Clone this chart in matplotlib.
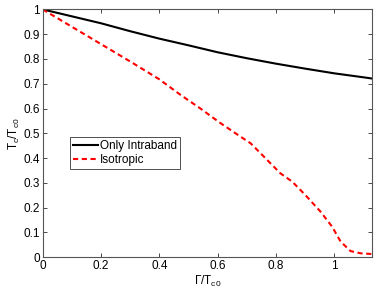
import matplotlib
matplotlib.use('Agg')
import matplotlib.pyplot as plt

plt.rcParams['font.family'] = ['Liberation Sans', 'DejaVu Sans']
plt.rcParams['mathtext.fontset'] = 'custom'
plt.rcParams['mathtext.rm'] = 'Liberation Sans'
plt.rcParams['mathtext.it'] = 'Liberation Sans'

# data
g_intra = [0, 0.1, 0.2, 0.3, 0.4, 0.5, 0.6, 0.7, 0.8, 0.9, 1.0, 1.1, 1.13]
tc_intra = [1, 0.972, 0.944, 0.912, 0.882, 0.855, 0.827, 0.803, 0.781, 0.761, 0.742, 0.726, 0.721]
g_iso = [0, 0.1, 0.2, 0.3, 0.4, 0.473, 0.54, 0.61, 0.678, 0.713, 0.747, 0.815, 0.856,
         0.901, 0.953, 0.993, 1.022, 1.056, 1.09, 1.13]
tc_iso = [1, 0.93, 0.86, 0.79, 0.718, 0.655, 0.601, 0.541, 0.487, 0.46, 0.42, 0.339, 0.305,
          0.251, 0.184, 0.123, 0.063, 0.025, 0.016, 0.013]
xticks = [0, 0.2, 0.4, 0.6, 0.8, 1]
xticklabels = ['0', '0.2', '0.4', '0.6', '0.8', '1']
yticks = [0, 0.1, 0.2, 0.3, 0.4, 0.5, 0.6, 0.7, 0.8, 0.9, 1]
yticklabels = ['0', '0.1', '0.2', '0.3', '0.4', '0.5', '0.6', '0.7', '0.8', '0.9', '1']

fig = plt.figure(figsize=(3.74, 2.93), dpi=100)
ax = fig.add_axes([0.114, 0.122, 0.881, 0.846])
ax.plot(g_intra, tc_intra, color='black', lw=1.5, label='Only Intraband')
ax.plot(g_iso, tc_iso, color='red', lw=1.5, ls=(0, (2.5, 1.7)), label='Isotropic')
ax.set_xlim(0, 1.13)
ax.set_ylim(0, 1)
ax.set_xticks(xticks)
ax.set_xticklabels(xticklabels)
ax.set_yticks(yticks)
ax.set_yticklabels(yticklabels)
ax.tick_params(direction='in', top=True, right=True, labelsize=8.5, length=3, width=0.5, pad=2)
for s in ax.spines.values():
    s.set_linewidth(0.8)
    s.set_color('#555555')
ax.set_xlabel(r'$\Gamma/T_{c0}$', fontsize=8.5, labelpad=1)
ax.set_ylabel(r'$T_c/T_{c0}$', fontsize=8.5, labelpad=1)
leg = ax.legend(loc='upper left', bbox_to_anchor=(0.083, 0.486), fontsize=8.5,
                frameon=True, fancybox=False, edgecolor='black', borderpad=0.25,
                handlelength=2.1, handletextpad=0.2, labelspacing=0.2, borderaxespad=0)
leg.get_frame().set_linewidth(0.6)
fig.savefig('out.png', dpi=100)
